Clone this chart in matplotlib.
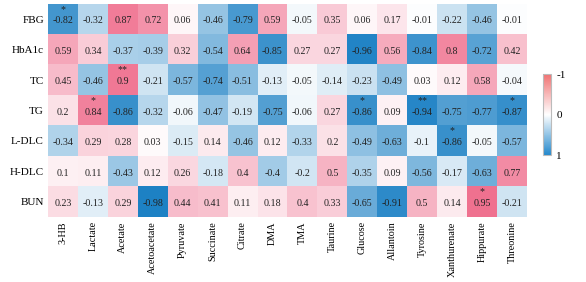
import numpy as np
import matplotlib.pyplot as plt
from matplotlib.colors import LinearSegmentedColormap, Normalize
from matplotlib.cm import ScalarMappable

plt.rcParams['font.family'] = ['Liberation Serif', 'DejaVu Serif']

metabolites = ['3-HB', 'Lactate', 'Acetate', 'Acetoacetate', 'Pyruvate', 'Succinate',
               'Citrate', 'DMA', 'TMA', 'Taurine', 'Glucose', 'Allantoin', 'Tyrosine',
               'Xanthurenate', 'Hippurate', 'Threonine']
indices = ['FBG', 'HbA1c', 'TC', 'TG', 'L-DLC', 'H-DLC', 'BUN']

fbg = [-0.82, -0.32, 0.87, 0.72, 0.06, -0.46, -0.79, 0.59, -0.05, 0.35, 0.06, 0.17, -0.01, -0.22, -0.46, -0.01]
hba1c = [0.59, 0.34, -0.37, -0.39, 0.32, -0.54, 0.64, -0.85, 0.27, 0.27, -0.96, 0.56, -0.84, 0.8, -0.72, 0.42]
tc = [0.45, -0.46, 0.9, -0.21, -0.57, -0.74, -0.51, -0.13, -0.05, -0.14, -0.23, -0.49, 0.03, 0.12, 0.58, -0.04]
tg = [0.2, 0.84, -0.86, -0.32, -0.06, -0.47, -0.19, -0.75, -0.06, 0.27, -0.86, 0.09, -0.94, -0.75, -0.77, -0.87]
ldlc = [-0.34, 0.29, 0.28, 0.03, -0.15, 0.14, -0.46, 0.12, -0.33, 0.2, -0.49, -0.63, -0.1, -0.86, -0.05, -0.57]
hdlc = [0.1, 0.11, -0.43, 0.12, 0.26, -0.18, 0.4, -0.4, -0.2, 0.5, -0.35, 0.09, -0.56, -0.17, -0.63, 0.77]
bun = [0.23, -0.13, 0.29, -0.98, 0.44, 0.41, 0.11, 0.18, 0.4, 0.33, -0.65, -0.91, 0.5, 0.14, 0.95, -0.21]

# significance marks: (row, column, mark)
stars = [('FBG', '3-HB', '*'), ('TC', 'Acetate', '**'), ('TG', 'Lactate', '*'),
         ('TG', 'Glucose', '*'), ('TG', 'Tyrosine', '**'), ('TG', 'Threonine', '*'),
         ('L-DLC', 'Xanthurenate', '*'), ('BUN', 'Hippurate', '*')]

data = np.array([fbg, hba1c, tc, tg, ldlc, hdlc, bun])
marks = {(indices.index(r), metabolites.index(c)): m for r, c, m in stars}

cmap = LinearSegmentedColormap.from_list('bw_pink', ['#1a80c4', '#ffffff', '#ef6a8a'])
# the legend bar in the original is a bit more coral than the cells
bar_cmap = LinearSegmentedColormap.from_list('bw_coral', ['#2388cc', '#ffffff', '#f07272'])

fig = plt.figure(figsize=(5.86, 2.82), dpi=100)
ax = fig.add_axes([0.082, 0.230, 0.817, 0.756])
im = ax.imshow(data, cmap=cmap, vmin=-1, vmax=1, aspect='auto')

for i in range(data.shape[0]):
    for j in range(data.shape[1]):
        label = f'{data[i, j]:g}'
        if (i, j) in marks:
            label = marks[(i, j)] + '\n' + label
        ax.text(j, i + 0.14, label, ha='center', va='baseline', fontsize=7.2,
                linespacing=1.4, color='#222222')

ax.set_xticks(range(len(metabolites)))
ax.set_xticklabels(metabolites, rotation=90, fontsize=7.3)
ax.set_yticks(range(len(indices)))
ax.set_yticklabels(indices, fontsize=8)
ax.tick_params(length=0, pad=3)
for s in ax.spines.values():
    s.set_visible(False)

cax = fig.add_axes([0.927, 0.450, 0.013, 0.287])
cb = fig.colorbar(ScalarMappable(norm=Normalize(-1, 1), cmap=bar_cmap), cax=cax, ticks=[1, 0, -1])
cb.ax.set_yticklabels(['-1', '0', '1'], fontsize=8)
cb.ax.tick_params(length=0, pad=4)
cb.outline.set_edgecolor('#bbbbbb')
cb.outline.set_linewidth(0.8)

fig.savefig('out.png', dpi=100)
